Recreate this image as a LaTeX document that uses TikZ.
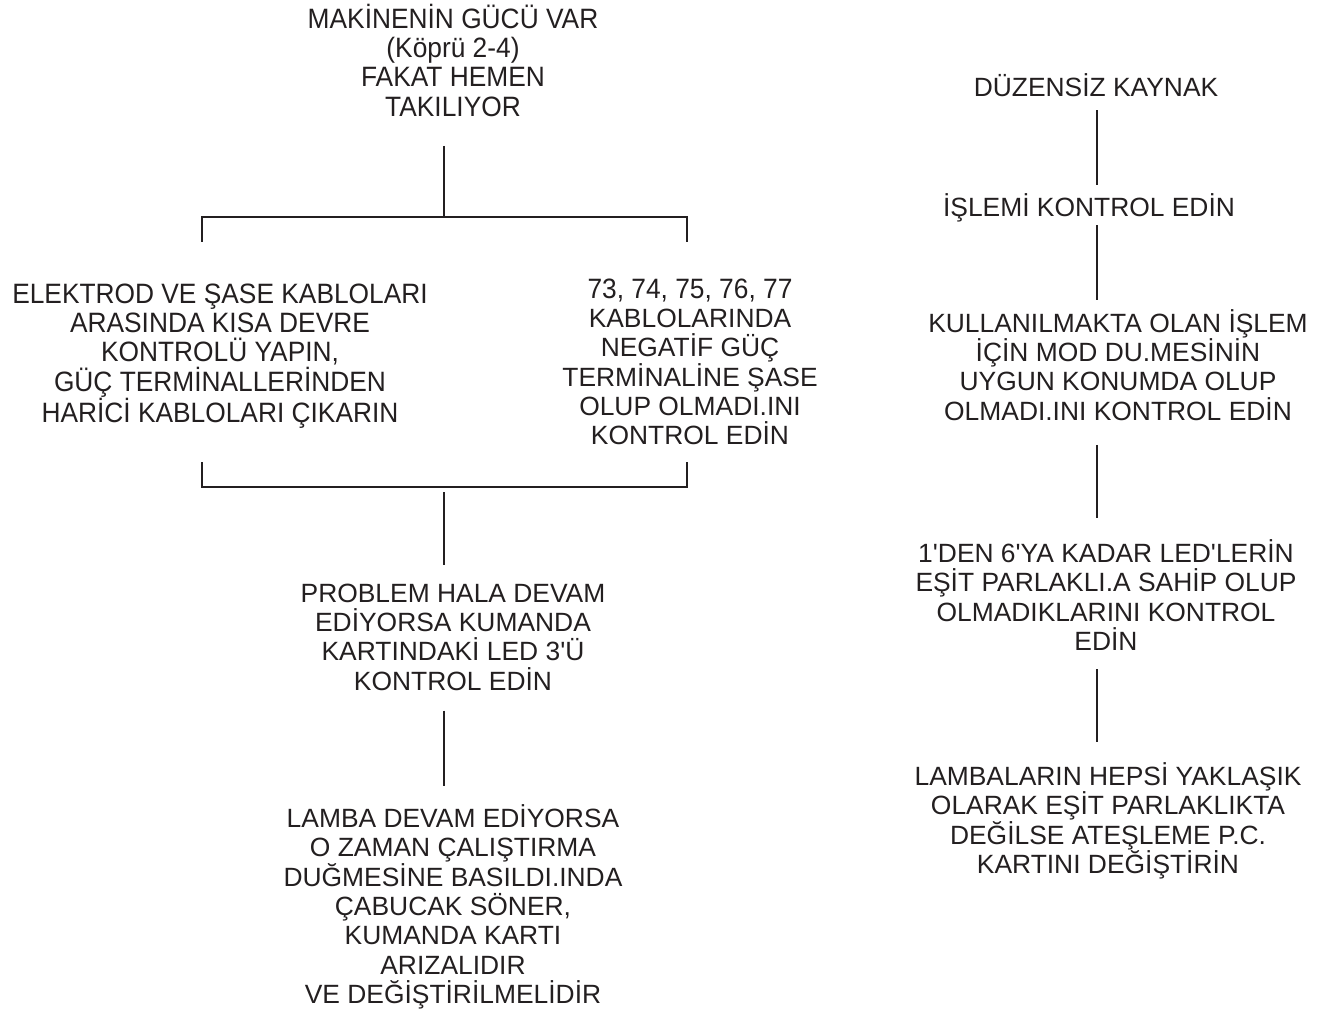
\documentclass[tikz,border=0pt]{standalone}
\usepackage{fontspec}
\setmainfont{Liberation Sans}
\newfontfamily\narrowfont[FakeStretch=0.94]{Liberation Sans}
\usepackage{tikz}
\definecolor{ink}{HTML}{231F20}
\newcommand{\tq}{\textquotesingle}
\tikzset{
  txt/.style={align=center, inner sep=0pt, text=ink, font=\fontsize{19.8}{22}\selectfont},
  narrowtxt/.style={txt, font=\narrowfont\fontsize{21}{22}\selectfont},
  link/.style={draw=ink, line width=1.8pt}
}
\begin{document}
\begin{tikzpicture}[x=0.75pt, y=-0.75pt]
    \useasboundingbox (0,0) rectangle (1327,1016);
    % left tree
    \node[narrowtxt] at (453,60) (top) {MAKİNENİN GÜCÜ VAR\\(Köprü 2-4)\\FAKAT HEMEN\\TAKILIYOR};
    \node[narrowtxt] at (220,356) (elek) {ELEKTROD VE ŞASE KABLOLARI\\ARASINDA KISA DEVRE\\KONTROLÜ YAPIN,\\GÜÇ TERMİNALLERİNDEN\\HARİCİ KABLOLARI ÇIKARIN};
    \node[txt] at (690,362) (neg) {{\narrowfont\fontsize{21}{22}\selectfont 73, 74, 75, 76, 77}\\KABLOLARINDA\\NEGATİF GÜÇ\\TERMİNALİNE ŞASE\\OLUP OLMADI.INI\\KONTROL EDİN};
    \node[txt] at (453,637) (prob) {PROBLEM HALA DEVAM\\EDİYORSA KUMANDA\\KARTINDAKİ LED 3\tq Ü\\KONTROL EDİN};
    \node[txt] at (453,907) (lamba) {LAMBA DEVAM EDİYORSA\\O ZAMAN ÇALIŞTIRMA\\DUĞMESİNE BASILDI.INDA\\ÇABUCAK SÖNER,\\KUMANDA KARTI\\ARIZALIDIR\\VE DEĞİŞTİRİLMELİDİR};
    \coordinate (tj) at (444,217);
    \coordinate (tl) at (202,242);
    \coordinate (tr) at (687,242);
    \coordinate (bj) at (444,487);
    \coordinate (bl) at (202,462);
    \coordinate (br) at (687,462);
    \draw[link, shorten <=22pt] (top.south -| tj) -- (tj);
    \draw[link] (tl) -- (tl |- tj) -- (tr |- tj) -- (tr);
    \draw[link] (bl) -- (bl |- bj) -- (br |- bj) -- (br);
    \draw[link, shorten <=4pt, shorten >=13.5pt] (bj) -- (prob.north -| bj);
    \draw[link, shorten <=15pt, shorten >=13.5pt] (prob.south -| bj) -- (lamba.north -| bj);
    % right column
    \node[txt] at (1096,85) (duz) {DÜZENSİZ KAYNAK};
    \node[txt] at (1089,208) (islem) {İŞLEMİ KONTROL EDİN};
    \node[txt] at (1118,365) (mod) {KULLANILMAKTA OLAN İŞLEM\\İÇİN MOD DU.MESİNİN\\UYGUN KONUMDA OLUP\\OLMADI.INI KONTROL EDİN};
    \node[txt] at (1106,595) (led) {1\tq DEN 6\tq YA KADAR LED\tq LERİN\\EŞİT PARLAKLI.A SAHİP OLUP\\OLMADIKLARINI KONTROL\\EDİN};
    \node[txt] at (1108,821) (lamb) {LAMBALARIN HEPSİ YAKLAŞIK\\OLARAK EŞİT PARLAKLIKTA\\DEĞİLSE ATEŞLEME P.C.\\KARTINI DEĞİŞTİRİN};
    \coordinate (spine) at (1097,0);
    \draw[link, shorten <=10pt, shorten >=6pt] (duz.south -| spine) -- (islem.north -| spine);
    \draw[link, shorten <=2pt, shorten >=7pt] (islem.south -| spine) -- (mod.north -| spine);
    \draw[link, shorten <=18pt, shorten >=16pt] (mod.south -| spine) -- (led.north -| spine);
    \draw[link, shorten <=14pt, shorten >=15pt] (led.south -| spine) -- (lamb.north -| spine);
\end{tikzpicture}
\end{document}
